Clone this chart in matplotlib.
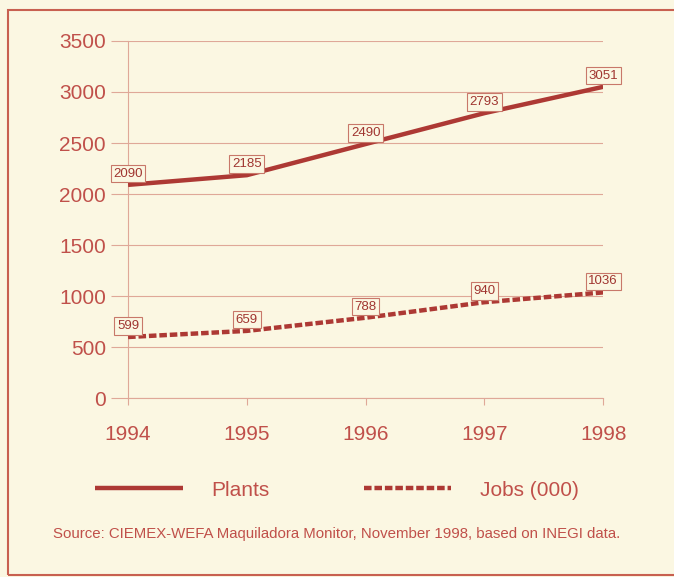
import matplotlib.pyplot as plt
from matplotlib.patches import Rectangle

plt.rcParams['font.family'] = ['Liberation Sans', 'DejaVu Sans']

years = [1994, 1995, 1996, 1997, 1998]
plants = [2090, 2185, 2490, 2793, 3051]
jobs = [599, 659, 788, 940, 1036]
source = 'Source: CIEMEX-WEFA Maquiladora Monitor, November 1998, based on INEGI data.'

bg = '#fbf7e2'
line_red = '#ad3934'
text_red = '#c0504a'
grid_red = '#dfa898'

fig = plt.figure(figsize=(6.74, 5.77), dpi=100, facecolor=bg)

# outer frame (runs off the right edge)
fig.patches.append(Rectangle((0.012, 0.004), 1.1, 0.978, transform=fig.transFigure,
                             fill=False, edgecolor='#c86050', linewidth=1.5))

ax = fig.add_axes([0.190, 0.310, 0.705, 0.619])
ax.set_facecolor(bg)

ax.plot(years, plants, '-', color=line_red, linewidth=3.2, label='Plants',
        solid_capstyle='butt', zorder=3)
ax.plot(years, jobs, '-', color=line_red, linewidth=3.2, label='Jobs (000)',
        dashes=(1.7, 0.65), zorder=3)

# value boxes above each point
for series in (plants, jobs):
    for x, v in zip(years, series):
        ax.annotate(str(v), xy=(x, v), xytext=(0, 8), textcoords='offset points',
                    ha='center', va='center', fontsize=9.5, color='#a03530',
                    bbox=dict(boxstyle='square,pad=0.2', fc=bg, ec='#c8786a', lw=0.8),
                    zorder=4)

ax.set_xlim(1994, 1998)
ax.set_ylim(0, 3500)
ax.set_xticks(years)
ax.set_yticks(range(0, 3501, 500))
ax.yaxis.grid(True, color=grid_red, linewidth=0.8)
ax.set_axisbelow(True)

for s in ('top', 'right'):
    ax.spines[s].set_visible(False)
for s in ('left', 'bottom'):
    ax.spines[s].set_color(grid_red)
    ax.spines[s].set_linewidth(0.8)

ax.tick_params(axis='y', length=12, width=0.8, color=grid_red, pad=4,
               labelsize=15, labelcolor=text_red)
ax.tick_params(axis='x', length=5, width=0.8, color=grid_red, pad=14,
               labelsize=15, labelcolor=text_red)

leg = ax.legend(loc='center', bbox_to_anchor=(0.44, -0.258), ncol=2, frameon=False,
                fontsize=15, handlelength=4.2, handletextpad=1.4, columnspacing=4.5)
for t in leg.get_texts():
    t.set_color(text_red)

fig.text(0.5, 1 - 534 / 577, source, ha='center', va='center', fontsize=10.8,
         color=text_red)

fig.savefig('out.png', dpi=100, facecolor=bg)
